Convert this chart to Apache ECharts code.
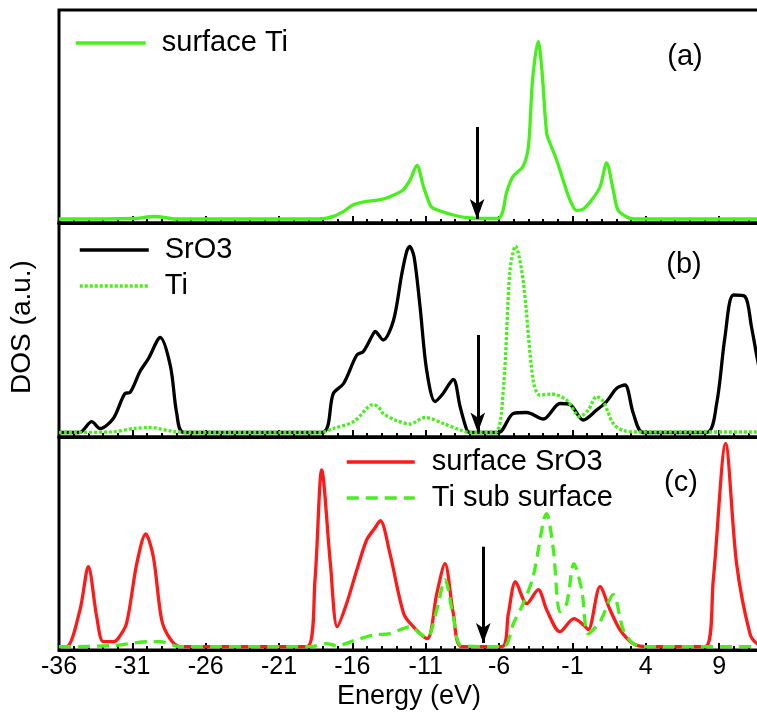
<!DOCTYPE html>
<html>
<head>
<meta charset="utf-8">
<script src="https://cdn.jsdelivr.net/npm/echarts@6/dist/echarts.min.js"></script>
<style>
html,body{margin:0;padding:0;background:#fff;}
#chart{width:757px;height:716px;}
</style>
</head>
<body>
<div id="chart"></div>
<script>
// ---- data (energy in eV, DOS in arbitrary units) ----
const xTickMin = -36;
const xTickStep = 5;
const xMax = 14;

// panel (a): surface Ti
const surfTiE = [-36,-31,-29.45,-28,-18.3,-17.3,-16.6,-15.94,-15.03,-14.1,-13.4,-12.55,-12.07,-11.6,-11.16,-10.7,-10.5,-9.12,-7.98,-6.6,-6.2,-5.94,-5.72,-5.5,-5.05,-4.37,-4.0,-3.72,-3.33,-3.1,-2.76,-2.53,-2.08,-1.64,-1.17,-0.71,-0.26,0.31,0.88,1.33,1.78,2.1,2.7,3.2,14];
const surfTiD = [0,0.5,2.5,0,0,2.6,7.6,14.3,17.6,19.3,22.6,29,39,53.5,32.6,14,10.7,4,1,0.5,0.5,1.5,9,26,42.6,52.6,72.6,139,177.6,152,86,75.7,59,39,19,8.6,10,19,32,56,29,9,2,0,0];

// panel (b): SrO3 and Ti
const sro3E = [-36,-34.6,-33.77,-33.2,-32.3,-31.5,-31.16,-30.48,-29.9,-29.1,-28.4,-27.98,-27.5,-18.1,-17.3,-16.6,-15.7,-15.25,-14.57,-14.46,-13.9,-13.2,-12.64,-12.3,-12.1,-11.8,-11.39,-10.94,-10.37,-9.9,-9.12,-8.66,-8.2,-7.98,-6.05,-5.03,-4.12,-2.98,-1.85,-1.17,-0.26,0.65,1.33,2.0,2.58,3.15,3.83,8.15,8.83,9.4,9.97,10.76,11.2,11.6,12.2,12.8,14];
const sro3D = [0,0,10.8,4,14,39,40,61,74,95,66,19.5,0,0,39,49,77.5,81,99,101,92.5,112,158,181,186,176,126,62.5,31,37.5,53,26,2.5,0,0,19,20,13.5,29,28,12.5,22.5,31,44,47.5,19,0,0,29,96,137.5,136,106,74,30,5,0];
const tiE = [-36,-32.5,-30.9,-29.8,-28.2,-27,-18.2,-17.3,-15.9,-14.57,-14.2,-13.9,-13.0,-12.07,-11.05,-9.8,-8.66,-8,-6.28,-5.7,-5.26,-4.88,-4.36,-3.68,-3.23,-2.43,-1.4,-0.5,0.08,0.65,1.1,1.78,2.46,3.5,14];
const tiD = [0,0.5,4,5,1,0,0,4,11,28,25,19,12,8.5,15,9,2.5,0,0,46,162,186.5,152,52,37.5,38.5,32.5,16,22.5,36,31,9,2,0.5,0.5];

// panel (c): surface SrO3 and Ti sub surface
const surfSrO3E = [-36,-35.48,-34.57,-34.0,-33.43,-32.98,-32.3,-31.98,-31.4,-30.7,-30.09,-29.57,-29.0,-28.43,-27.75,-19.1,-18.55,-18.09,-17.5,-17.03,-16.4,-15.7,-15.03,-14.5,-14.1,-13.44,-12.5,-11.85,-10.9,-10.25,-9.69,-9.12,-8.55,-5.82,-5.37,-4.88,-4.12,-3.33,-2.76,-1.85,-0.9,-0.26,0.08,0.88,1.56,2.24,3.15,4,8.04,8.6,9.44,10.19,11.1,11.6,12.5,14];
const surfSrO3D = [0,0,36.7,80,30,5,5,8,23,83,112.7,90,26.7,8,0,0,66.7,176.7,83,20,43,76.7,106.7,118,126,93,33,20,8,53,83,33,0,0,33,65,43,57,37,15,28,22,17,60,37,17,3,0,0,67,203,83,13,3,0,0];
const tiSubE = [-36,-32.5,-29.8,-29.1,-27.75,-18.9,-17.75,-17.07,-15.9,-14.57,-13.44,-12.75,-12.07,-11.39,-10.9,-10.25,-9.69,-9.12,-8.55,-5.7,-5.03,-4.36,-3.68,-2.76,-2.3,-1.85,-1.4,-0.9,-0.37,0.08,0.88,1.78,2.46,3.15,4,14];
const tiSubD = [0,1,5,5,0,0,3,1,6,11.7,13,17,20,13,9,37,67,30,1,0,23,43,70,133,97,35,43,83,57,13,25,52,17,3,0,0];

// Fermi-level arrows (one per panel)
const arrowX = [-7.5, -7.45, -7.08];
const arrowTop = [92, 97.5, 100];
const arrowBottom = [0, 0, 3.7];

const panelLabels = ['(a)', '(b)', '(c)'];
const seriesNames = ['surface Ti', 'SrO3', 'Ti', 'surface SrO3', 'Ti sub surface'];
const yMin = [-4, -4.5, -3.3];
const yMax = [209, 209.5, 209.7];

// ---- build ----
const zip = (e, d) => e.map((v, i) => [v, d[i]]);
const FONT = 'Liberation Sans, Arial, Helvetica, sans-serif';
const GREEN = '#46f01a';
const RED = '#ff1a1a';

const grids = [
  {left: 59, right: -35.5, top: 10, height: 213},
  {left: 59, right: -35.5, top: 223, height: 214},
  {left: 59, right: -35.5, top: 437, height: 213}
].map(g => Object.assign(g, {show: true, borderColor: '#000', borderWidth: 3, backgroundColor: 'transparent', containLabel: false, outerBoundsMode: 'none'}));

const xAxes = [0, 1, 2].map(i => ({
  type: 'value', gridIndex: i, min: xTickMin, max: xMax, interval: xTickStep,
  axisLine: {show: true, onZero: false, lineStyle: {color: '#000', width: 3}},
  axisTick: {show: true, inside: true, length: 7, lineStyle: {color: '#000', width: 2}},
  minorTick: {show: true, splitNumber: 5, length: 4, lineStyle: {color: '#000', width: 2}},
  splitLine: {show: false}, minorSplitLine: {show: false},
  axisLabel: {show: i === 2, fontSize: 25, color: '#000', fontFamily: FONT, margin: 5}
}));

const yAxes = [0, 1, 2].map(i => ({
  type: 'value', gridIndex: i, min: yMin[i], max: yMax[i],
  axisLine: {show: false}, axisTick: {show: false}, axisLabel: {show: false},
  splitLine: {show: false}
}));

function arrowMark(i) {
  return {
    silent: true, animation: false,
    symbol: ['none', 'arrow'], symbolSize: [11, 20],
    lineStyle: {color: '#000', width: 3, type: 'solid'},
    label: {show: false},
    emphasis: {disabled: true},
    data: [[{coord: [arrowX[i], arrowTop[i]]}, {coord: [arrowX[i], arrowBottom[i]]}]]
  };
}

function lineSeries(name, gi, data, color, type, z) {
  return {
    name, type: 'line', xAxisIndex: gi, yAxisIndex: gi, data,
    showSymbol: false, symbol: 'none', smooth: 0.3, z: z || 2,
    lineStyle: {color, width: 3.3, type: type || 'solid', cap: 'butt'},
    itemStyle: {color}
  };
}

const sA = lineSeries(seriesNames[0], 0, zip(surfTiE, surfTiD), GREEN);
sA.markLine = arrowMark(0);
const sB1 = lineSeries(seriesNames[1], 1, zip(sro3E, sro3D), '#000');
sB1.markLine = arrowMark(1);
const sB2 = lineSeries(seriesNames[2], 1, zip(tiE, tiD), GREEN, [3, 2], 3);
const sC1 = lineSeries(seriesNames[3], 2, zip(surfSrO3E, surfSrO3D), RED);
sC1.markLine = arrowMark(2);
const sC2 = lineSeries(seriesNames[4], 2, zip(tiSubE, tiSubD), GREEN, [12, 7], 3);

const legendText = {fontSize: 29, color: '#000', fontFamily: FONT, lineHeight: 34};
const legends = [
  {data: [seriesNames[0]], left: 74, top: 26, itemWidth: 70, pad: 11},
  {data: [seriesNames[1], seriesNames[2]], left: 78, top: 233, itemWidth: 69, pad: 11},
  {data: [seriesNames[3], seriesNames[4]], left: 345, top: 445, itemWidth: 68, pad: 12}
].map(l => ({
  data: l.data, left: l.left, top: l.top, orient: 'vertical', itemGap: 2,
  itemWidth: l.itemWidth, itemHeight: 14, padding: 0,
  selectedMode: false,
  itemStyle: {opacity: 0, borderWidth: 0},
  lineStyle: {width: 3.5},
  textStyle: Object.assign({}, legendText, {padding: [0, 0, 0, l.pad]})
}));

const labelPos = [[685, 57], [684, 265], [681, 483]];
const graphics = panelLabels.map((t, i) => ({
  type: 'text', x: labelPos[i][0], y: labelPos[i][1], silent: true,
  style: {text: t, fontSize: 29, fontFamily: FONT, fill: '#000', align: 'center', verticalAlign: 'middle'}
}));
graphics.push({
  type: 'text', x: 22, y: 327, rotation: Math.PI / 2, silent: true,
  style: {text: 'DOS (a.u.)', fontSize: 28, fontFamily: FONT, fill: '#000', align: 'center', verticalAlign: 'middle'}
});
graphics.push({
  type: 'text', x: 409, y: 697, silent: true,
  style: {text: 'Energy (eV)', fontSize: 27, fontFamily: FONT, fill: '#000', align: 'center', verticalAlign: 'middle'}
});

const chart = echarts.init(document.getElementById('chart'), null, {renderer: 'canvas'});
chart.setOption({
  animation: false,
  backgroundColor: '#fff',
  textStyle: {fontFamily: FONT},
  grid: grids,
  xAxis: xAxes,
  yAxis: yAxes,
  legend: legends,
  graphic: graphics,
  series: [sA, sB1, sB2, sC1, sC2]
});
</script>
</body>
</html>
